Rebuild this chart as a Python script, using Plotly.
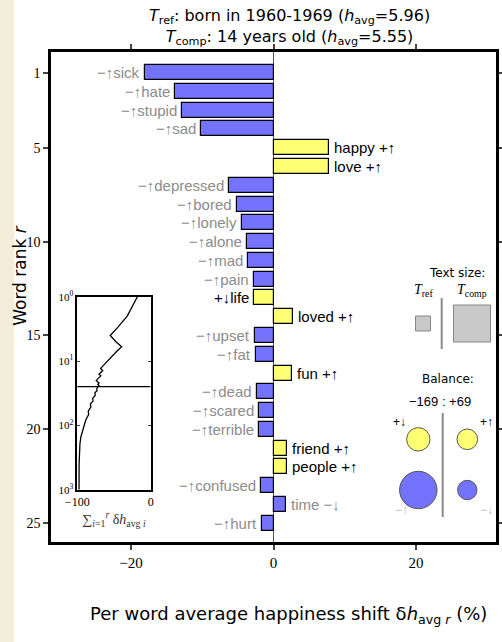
import numpy as np
import plotly.graph_objects as go

# word shift data, ranks 1..25
WORDS = ["sick", "hate", "stupid", "sad", "happy", "love", "depressed", "bored",
         "lonely", "alone", "mad", "pain", "life", "loved", "upset", "fat", "fun",
         "dead", "scared", "terrible", "friend", "people", "confused", "time", "hurt"]
SHIFTS = [-18.1, -13.9, -12.9, -10.2, 7.83, 7.75, -6.3, -5.06, -4.4, -3.7, -3.6,
          -2.8, -2.76, 2.8, -2.6, -2.5, 2.58, -2.25, -2.05, -1.97, 1.88, 1.93,
          -1.77, 1.78, -1.63]
KINDS = ["−↑", "−↑", "−↑", "−↑", "+↑", "+↑", "−↑", "−↑", "−↑", "−↑", "−↑", "−↑",
         "+↓", "+↑", "−↑", "−↑", "+↑", "−↑", "−↑", "−↑", "+↑", "+↑", "−↑", "−↓", "−↑"]
RANKS = list(range(1, len(WORDS) + 1))

# cumulative shift past rank 25
TAIL_RANKS = [27, 29, 31, 34, 38, 42, 46, 52, 60, 68, 80, 95, 118, 150, 191, 250, 400, 1000]
TAIL_CUM = [-73.5, -73.0, -76.0, -75.5, -79.0, -78.5, -82.0, -81.5, -85.0, -84.5,
            -88.0, -90.0, -92.5, -95.0, -96.3, -97.0, -97.5, -97.6]

# balance circles (area-like sizes) and text size squares
BAL_KINDS = ["+↓", "+↑", "−↑", "−↓"]
BAL_SIZES = [137, 106, 350, 94]
TEXT_SIZES = [15, 37]
BALANCE = (-169, 69)

BLUE = "#7373FF"
YELLOW = "#FFFF73"
GRAY_TXT = "#8C8C8C"
SERIF = "Liberation Serif"
SANS = "Liberation Sans"
TITLE_FONT = "DejaVu Sans"
CLEAR = "rgba(0,0,0,0)"

fig = go.Figure()

colors = [YELLOW if k.startswith("+") else BLUE for k in KINDS]
fig.add_trace(go.Bar(
    x=SHIFTS, y=RANKS, orientation="h", width=0.8,
    marker=dict(color=colors, line=dict(color="black", width=1.2)),
    hoverinfo="skip", showlegend=False, xaxis="x", yaxis="y",
))

for w, s, k, r in zip(WORDS, SHIFTS, KINDS, RANKS):
    txt = f"{k}{w}" if s < 0 else f"{w} {k}"
    fig.add_annotation(
        x=s, y=r, xref="x", yref="y", text=txt, showarrow=False,
        xanchor="right" if s < 0 else "left", yanchor="middle",
        xshift=-3 if s < 0 else 3,
        font=dict(family=SANS, size=15, color="black" if k.startswith("+") else GRAY_TXT),
    )

# inset: cumulative sum
cum = list(np.cumsum(SHIFTS))
fig.add_trace(go.Scatter(
    x=cum + TAIL_CUM, y=RANKS + TAIL_RANKS, mode="lines",
    line=dict(color="black", width=1.3), xaxis="x2", yaxis="y2",
    hoverinfo="skip", showlegend=False,
))
fig.add_trace(go.Scatter(
    x=[-100, 0], y=[len(WORDS), len(WORDS)], mode="lines",
    line=dict(color="black", width=1.3), xaxis="x2", yaxis="y2",
    hoverinfo="skip", showlegend=False,
))

# legend panel (pixel-like coordinates)
fig.add_trace(go.Scatter(
    x=[423, 472], y=[323.5, 323.5], mode="markers",
    marker=dict(symbol="square", size=TEXT_SIZES, color="#B3B3B3",
                line=dict(color="#555", width=1)),
    xaxis="x3", yaxis="y3", hoverinfo="skip", showlegend=False,
))
bal_x = [418.3, 467.3, 418.3, 467.3]
bal_y = [439.3, 439.3, 490, 490]
fig.add_trace(go.Scatter(
    x=bal_x, y=bal_y, mode="markers",
    marker=dict(size=[2 * np.sqrt(v) for v in BAL_SIZES],
                color=[YELLOW if k.startswith("+") else BLUE for k in BAL_KINDS],
                line=dict(color="#555", width=1), opacity=1),
    xaxis="x3", yaxis="y3", hoverinfo="skip", showlegend=False,
))
for x0, y0, y1 in [(441.7, 298, 349), (442.7, 413, 517)]:
    fig.add_trace(go.Scatter(
        x=[x0, x0], y=[y0, y1], mode="lines", line=dict(color="#888", width=2),
        xaxis="x3", yaxis="y3", hoverinfo="skip", showlegend=False,
    ))

def note(x, y, text, size=13, color="black", family=TITLE_FONT, **kw):
    fig.add_annotation(x=x, y=y, xref="x3", yref="y3", text=text, showarrow=False,
                       xanchor="center", yanchor="middle",
                       font=dict(family=family, size=size, color=color), **kw)

note(457, 272.5, "Text size:", size=12)
note(423, 290.5, "<i>T</i><sub>ref</sub>", size=14, family=SERIF)
note(472, 290.5, "<i>T</i><sub>comp</sub>", size=14, family=SERIF)
note(448, 378.5, "Balance:", size=12)
note(440, 401.5, f"−{abs(BALANCE[0])} : +{BALANCE[1]}", size=13, family=SANS)
for k, x, y in zip(BAL_KINDS, [399, 486, 401, 486], [421.5, 421.5, 510, 510]):
    note(x, y, k, size=12, family=SANS, color="black" if k.startswith("+") else "#BBBBBB")

# titles
fig.add_annotation(x=0.535, y=1.05, xref="paper", yref="paper", showarrow=False,
                   xanchor="center", yanchor="middle",
                   text="<i>T</i><sub>ref</sub>: born in 1960-1969 (<i>h</i><sub>avg</sub>=5.96)<br>"
                        "<i>T</i><sub>comp</sub>: 14 years old (<i>h</i><sub>avg</sub>=5.55)",
                   font=dict(family=TITLE_FONT, size=16, color="black"))
fig.add_annotation(x=0.533, y=-0.149, xref="paper", yref="paper", showarrow=False,
                   xanchor="center", yanchor="middle",
                   text="Per word average happiness shift δ<i>h</i><sub>avg <i>r</i></sub> (%)",
                   font=dict(family=TITLE_FONT, size=18, color="black"))
fig.add_annotation(x=-0.07, y=0.545, xref="paper", yref="paper", showarrow=False,
                   xanchor="center", yanchor="middle",
                   textangle=-90, text="Word rank <i>r</i>",
                   font=dict(family=TITLE_FONT, size=17, color="black"))

# beige strip at the page edge
fig.add_shape(type="rect", xref="paper", yref="paper", x0=-0.1146, x1=-0.083,
              y0=-0.21, y1=1.11, fillcolor="#F4EDDA", line_width=0, layer="below")

fig.update_layout(
    width=502, height=642,
    margin=dict(l=51, r=6, t=52, b=100),
    paper_bgcolor="white", plot_bgcolor=CLEAR,
    bargap=0,
    xaxis=dict(domain=[0, 1], anchor="y", range=[-31.25, 31.25],
               tickvals=[-20, 0, 20], ticks="outside", ticklen=5, tickwidth=2,
               showline=True, linewidth=2.5, linecolor="black", mirror="ticks",
               showgrid=False, zeroline=True, zerolinecolor="#555", zerolinewidth=1,
               automargin=False,
               tickfont=dict(family=SERIF, size=15, color="black")),
    yaxis=dict(domain=[0, 1], anchor="x", range=[26.0, -0.1],
               tickvals=[1, 5, 10, 15, 20, 25], ticks="outside", ticklen=5, tickwidth=2,
               showline=True, linewidth=2.5, linecolor="black", mirror="ticks",
               showgrid=False, zeroline=False, automargin=False,
               tickfont=dict(family=SERIF, size=14, color="black")),
    xaxis2=dict(domain=[0.059, 0.224], anchor="y2", range=[-100, 0],
                tickvals=[-100, 0], ticks="inside", ticklen=3,
                showline=True, linewidth=1.5, linecolor="black", mirror="ticks",
                showgrid=False, zeroline=False, automargin=False,
                tickfont=dict(family=SERIF, size=12, color="black"),
                title=dict(text="∑<sub><i>i</i>=1</sub><sup><i>r</i></sup> δ<i>h</i><sub>avg <i>i</i></sub>",
                           font=dict(family=SERIF, size=14, color="#333"), standoff=2)),
    yaxis2=dict(domain=[0.1067, 0.5006], anchor="x2", type="log", range=[3, 0],
                tickvals=[1, 10, 100, 1000],
                ticktext=["10<sup>0</sup>", "10<sup>1</sup>", "10<sup>2</sup>", "10<sup>3</sup>"],
                ticks="inside", ticklen=3,
                showline=True, linewidth=1.5, linecolor="black", mirror="ticks",
                showgrid=False, zeroline=False, automargin=False,
                tickfont=dict(family=SERIF, size=11, color="black")),
    xaxis3=dict(domain=[0, 1], anchor="y3", range=[51, 496], visible=False, fixedrange=True),
    yaxis3=dict(domain=[0, 1], anchor="x3", range=[542, 52], visible=False, fixedrange=True),
)

fig.write_html("out.html", config={"displayModeBar": False},
               post_script="document.body.style.margin='0';")
